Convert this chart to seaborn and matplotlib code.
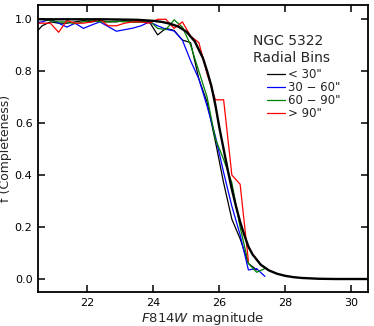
import matplotlib
matplotlib.use("Agg")
import matplotlib.pyplot as plt
import seaborn as sns
import pandas as pd

# ---- data ----
mag = [20.375, 20.625, 20.875, 21.125, 21.375, 21.625, 21.875, 22.125, 22.375,
       22.625, 22.875, 23.125, 23.375, 23.625, 23.875, 24.125, 24.375, 24.625,
       24.875, 25.125, 25.375, 25.625, 25.875, 26.125, 26.375, 26.625, 26.875,
       27.125, 27.375]

f_lt30 = [0.94, 0.975, 0.99, 0.985, 0.985, 0.99, 0.995, 0.99, 0.995, 0.99, 0.99,
          0.995, 0.99, 0.99, 0.99, 0.94, 0.965, 0.957, 0.92, 0.91, 0.77, 0.68,
          0.53, 0.37, 0.23, 0.155, 0.06, 0.035]
f_30_60 = [0.985, 0.99, 1.0, 0.985, 0.97, 0.985, 0.965, 0.978, 0.99, 0.972, 0.954,
           0.96, 0.966, 0.975, 0.99, 0.975, 0.962, 0.955, 0.92, 0.84, 0.77, 0.665,
           0.55, 0.41, 0.28, 0.17, 0.035, 0.04, 0.01]
f_60_90 = [1.0, 1.0, 0.995, 0.99, 0.99, 0.983, 0.99, 0.997, 0.99, 0.99, 0.993,
           0.99, 0.99, 0.99, 0.995, 0.965, 0.96, 0.998, 0.97, 0.9, 0.8, 0.7,
           0.54, 0.46, 0.37, 0.2, 0.06, 0.026, 0.04]
f_gt90 = [0.985, 0.985, 0.985, 0.95, 0.995, 0.985, 0.985, 0.99, 1.0, 0.975, 0.975,
          0.985, 0.99, 0.99, 0.985, 1.0, 1.0, 0.965, 0.99, 0.935, 0.91, 0.79,
          0.69, 0.69, 0.40, 0.365, 0.07]

fit_mag = [20.5, 21.5, 22.5, 23.0, 23.5, 24.0, 24.25, 24.5, 24.75, 25.0, 25.25,
           25.5, 25.625, 25.75, 25.875, 26.0, 26.125, 26.25, 26.375, 26.5, 26.625,
           26.75, 26.875, 27.0, 27.25, 27.5, 27.75, 28.0, 28.25, 28.5, 29.0, 29.5,
           30.5]
fit_f = [1.0, 1.0, 1.0, 0.999, 0.998, 0.994, 0.99, 0.983, 0.972, 0.952, 0.915,
         0.85, 0.80, 0.745, 0.67, 0.58, 0.50, 0.42, 0.345, 0.28, 0.22, 0.17,
         0.125, 0.095, 0.055, 0.033, 0.02, 0.012, 0.007, 0.004, 0.001, 0.0, 0.0]

labels = ['< 30"', '30 \u2212 60"', '60 \u2212 90"', '> 90"']
colors = ["black", "#0000ff", "#008000", "#ff0000"]
series = [f_lt30, f_30_60, f_60_90, f_gt90]

sns.set_style("ticks")
plt.rcParams["font.family"] = ["DejaVu Sans"]

fig = plt.figure(figsize=(3.74, 3.26), dpi=100)
ax = fig.add_axes([38 / 374, 1 - 292 / 326, 330 / 374, 287 / 326])

handles = []
for vals, lab, col in zip(series, labels, colors):
    df = pd.DataFrame({"mag": mag[:len(vals)], "f": vals})
    sns.lineplot(data=df, x="mag", y="f", ax=ax, color=col, linewidth=0.9,
                 sort=False, estimator=None, label=lab, legend=False)
    handles.append(ax.lines[-1])

fit_df = pd.DataFrame({"mag": fit_mag, "f": fit_f})
sns.lineplot(data=fit_df, x="mag", y="f", ax=ax, color="black", linewidth=1.7,
             sort=False, estimator=None, legend=False)

ax.set_xlim(20.5, 30.5)
ax.set_ylim(-0.05, 1.055)
ax.set_xticks([22, 24, 26, 28, 30])
ax.set_yticks([0.0, 0.2, 0.4, 0.6, 0.8, 1.0])
ax.set_yticklabels(["0.0", "0.2", "0.4", "0.6", "0.8", "1.0"])
ax.tick_params(direction="in", length=5, width=1.1, top=True, right=True,
               labelsize=8, pad=4, color="black", labelcolor="black")
for sp in ax.spines.values():
    sp.set_visible(True)
    sp.set_linewidth(1.3)
    sp.set_color("black")

ax.set_xlabel(r"$F814W$ magnitude", fontsize=9.5, labelpad=2)
ax.set_ylabel("f (Completeness)", fontsize=9, labelpad=2)

ax.text((253 - 38) / 330, 1 - (34 - 5) / 287,
        "NGC 5322\nRadial Bins", transform=ax.transAxes, fontsize=10,
        va="top", ha="left", linespacing=1.25)

leg = ax.legend(handles=handles, labels=labels, loc="upper left",
                bbox_to_anchor=((267 - 38) / 330, 1 - (68 - 5) / 287),
                frameon=False, fontsize=8.5, handlelength=1.5,
                handletextpad=0.25, labelspacing=0.0, borderaxespad=0,
                borderpad=0)

fig.savefig("out.png", dpi=100)
